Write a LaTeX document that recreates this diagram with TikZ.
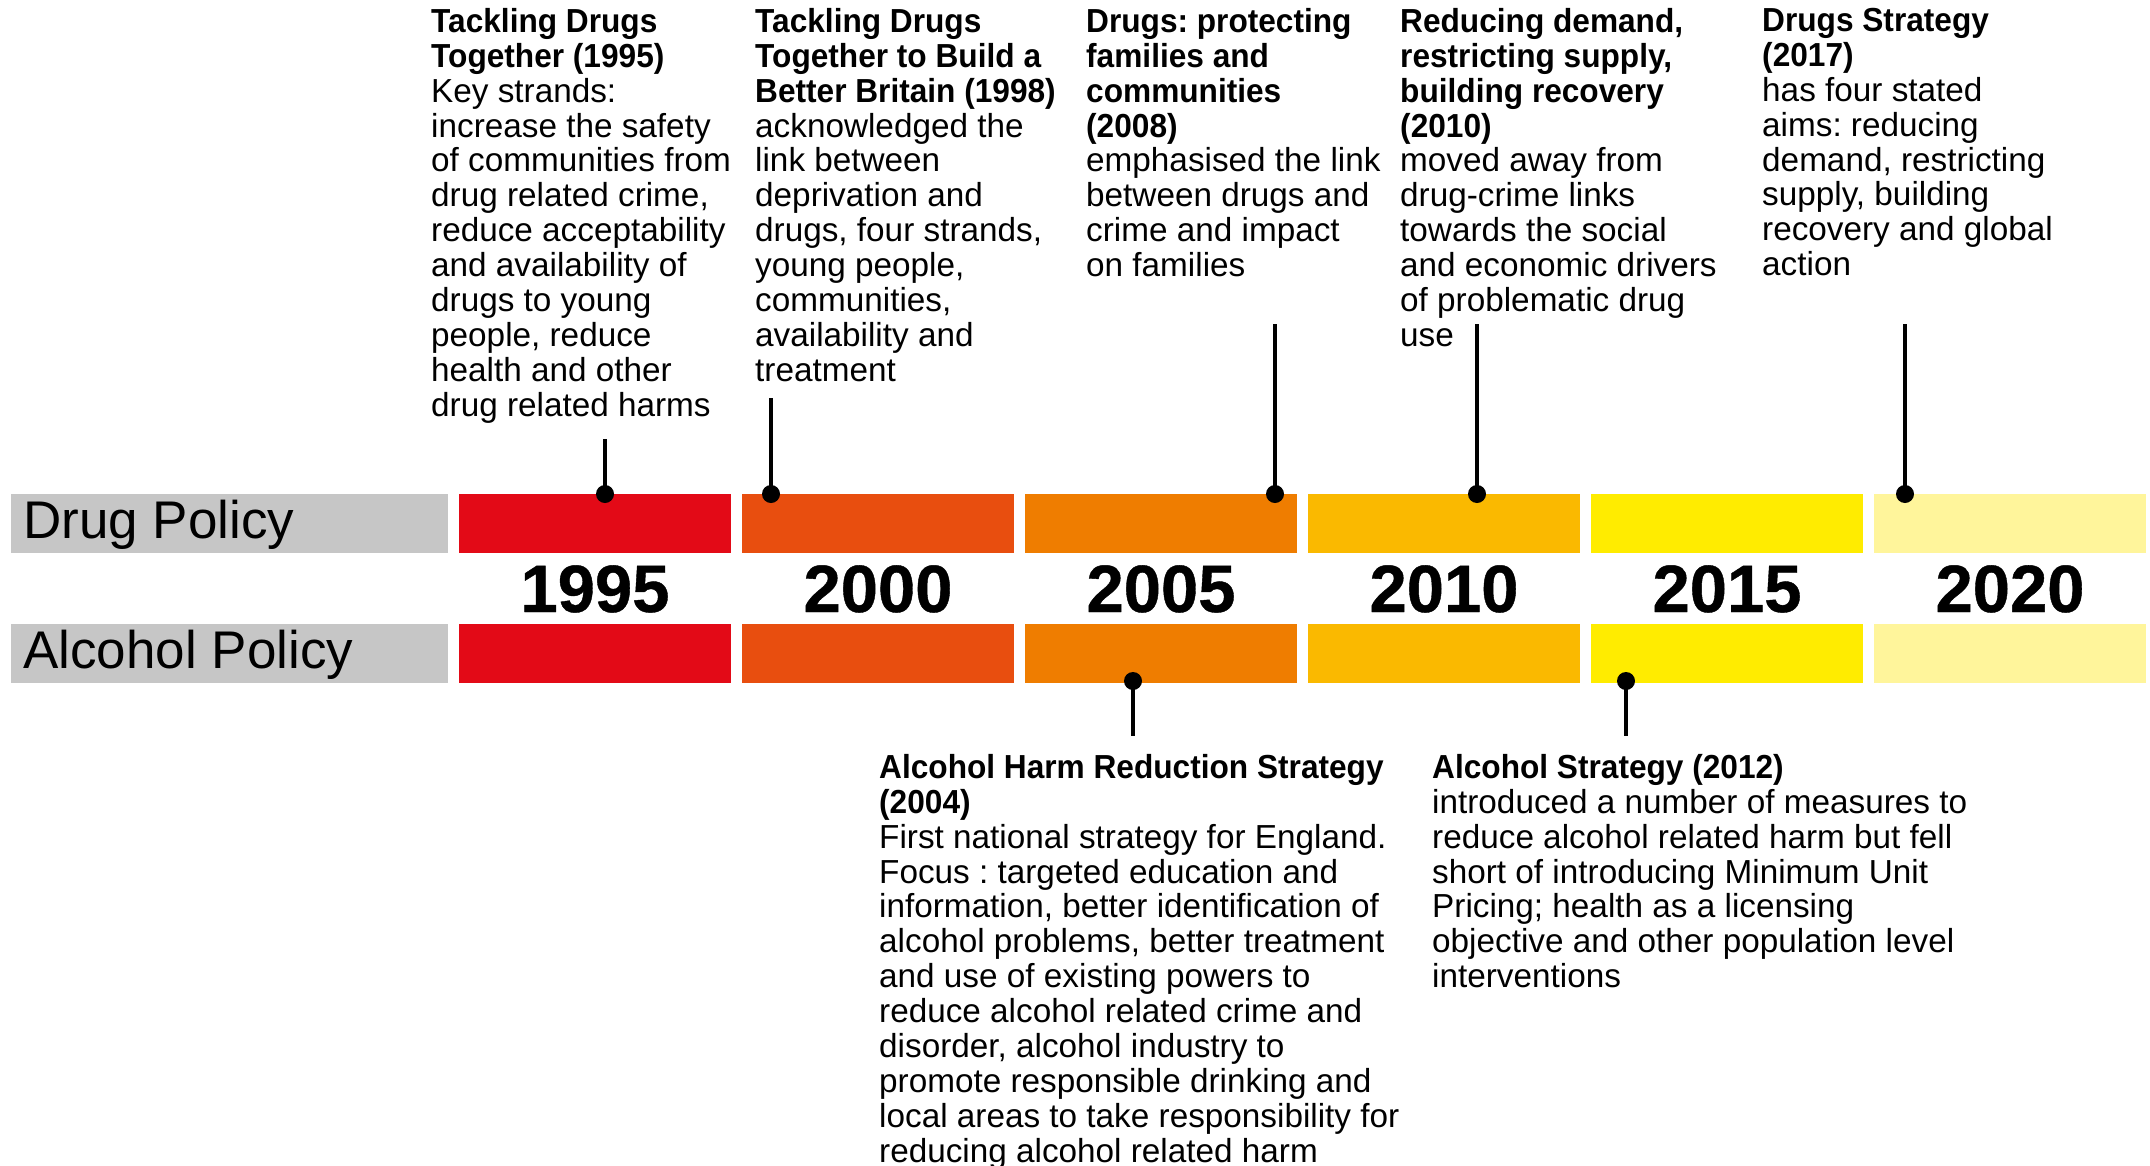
\documentclass[tikz,border=0pt]{standalone}
\usepackage{fontspec}
\setmainfont{Liberation Sans}
\newfontface\headface[FakeStretch=0.95]{Liberation Sans Bold}
\newfontface\yearface[FakeBold=0.6]{Liberation Sans Bold}
\newcommand\bodysize{\fontsize{33.3pt}{34.9pt}\selectfont}
\frenchspacing

\definecolor{y1995}{HTML}{E30A17}
\definecolor{y2000}{HTML}{E84E0F}
\definecolor{y2005}{HTML}{EF7D00}
\definecolor{y2010}{HTML}{FAB900}
\definecolor{y2015}{HTML}{FFEC00}
\definecolor{y2020}{HTML}{FFF59B}
\definecolor{rowgray}{HTML}{C6C6C6}

\tikzset{
  bar/.style={fill=#1, draw=none, minimum width=272pt, minimum height=59pt,
              inner sep=0pt, anchor=north west},
  rowlabel/.style={fill=rowgray, draw=none, minimum width=437pt, minimum height=59pt,
              inner sep=0pt, anchor=north west},
  rowtext/.style={anchor=base west, inner sep=0pt, font=\fontsize{53pt}{60pt}\selectfont},
  yeartext/.style={anchor=base, inner sep=0pt, font=\fontsize{67pt}{70pt}\yearface},
  note/.style={anchor=north west, inner sep=0pt, align=left, font=\bodysize},
  pindot/.style={circle, fill=black, inner sep=0pt, minimum size=18pt},
  stick/.style={draw=black, line width=4pt},
}

\begin{document}
\begin{tikzpicture}[x=1pt, y=-1pt]
  \useasboundingbox (0,0) rectangle (2150,1165);

  % row labels
  \node[rowlabel] (drugrow) at (11,494) {};
  \node[rowlabel] (alcrow) at (11,624) {};
  \node[rowtext] (drugtxt) at (23,538) {Drug Policy};
  \node[rowtext] (alctxt) at (23,668) {Alcohol Policy};

  % five-year bars, drug row
  \node[bar=y1995] (d1995) at (459,494) {};
  \node[bar=y2000] (d2000) at (742,494) {};
  \node[bar=y2005] (d2005) at (1025,494) {};
  \node[bar=y2010] (d2010) at (1308,494) {};
  \node[bar=y2015] (d2015) at (1591,494) {};
  \node[bar=y2020] (d2020) at (1874,494) {};

  % five-year bars, alcohol row
  \node[bar=y1995] (a1995) at (459,624) {};
  \node[bar=y2000] (a2000) at (742,624) {};
  \node[bar=y2005] (a2005) at (1025,624) {};
  \node[bar=y2010] (a2010) at (1308,624) {};
  \node[bar=y2015] (a2015) at (1591,624) {};
  \node[bar=y2020] (a2020) at (1874,624) {};

  % year labels
  \node[yeartext] (t1995) at (595,612) {1995};
  \node[yeartext] (t2000) at (878,612) {2000};
  \node[yeartext] (t2005) at (1161,612) {2005};
  \node[yeartext] (t2010) at (1444,612) {2010};
  \node[yeartext] (t2015) at (1727,612) {2015};
  \node[yeartext] (t2020) at (2010,612) {2020};

  % drug policy notes
  \node[note] (n1995) at (431,8) {{\headface Tackling Drugs}\\{\headface Together (1995)}\\Key strands:\\increase the safety\\of communities from\\drug related crime,\\reduce acceptability\\and availability of\\drugs to young\\people, reduce\\health and other\\drug related harms};
  \node[note] (n1998) at (755,8) {{\headface Tackling Drugs}\\{\headface Together to Build a}\\{\headface Better Britain (1998)}\\acknowledged the\\link between\\deprivation and\\drugs, four strands,\\young people,\\communities,\\availability and\\treatment};
  \node[note] (n2008) at (1086,8) {{\headface Drugs: protecting}\\{\headface families and}\\{\headface communities}\\{\headface (2008)}\\emphasised the link\\between drugs and\\crime and impact\\on families};
  \node[note] (n2010) at (1400,8) {{\headface Reducing demand,}\\{\headface restricting supply,}\\{\headface building recovery}\\{\headface (2010)}\\moved away from\\drug-crime links\\towards the social\\and economic drivers\\of problematic drug\\use};
  \node[note] (n2017) at (1762,8) {{\headface Drugs Strategy}\\{\headface (2017)}\\has four stated\\aims: reducing\\demand, restricting\\supply, building\\recovery and global\\action};

  % alcohol policy notes
  \node[note] (n2004) at (879,754) {{\headface Alcohol Harm Reduction Strategy}\\{\headface (2004)}\\First national strategy for England.\\Focus : targeted education and\\information, better identification of\\alcohol problems, better treatment\\and use of existing powers to\\reduce alcohol related crime and\\disorder, alcohol industry to\\promote responsible drinking and\\local areas to take responsibility for\\reducing alcohol related harm};
  \node[note] (n2012) at (1432,754) {{\headface Alcohol Strategy (2012)}\\introduced a number of measures to\\reduce alcohol related harm but fell\\short of introducing Minimum Unit\\Pricing; health as a licensing\\objective and other population level\\interventions};

  % pin ends
  \coordinate (e1995) at (605,439);
  \coordinate (e1998) at (771,398);
  \coordinate (e2008) at (1275,324);
  \coordinate (e2010) at (1477,324);
  \coordinate (e2017) at (1905,324);
  \coordinate (e2004) at (1133,736);
  \coordinate (e2012) at (1626,736);

  % pins on the drug row
  \node[pindot] (p1995) at (605,494) {};
  \node[pindot] (p1998) at (771,494) {};
  \node[pindot] (p2008) at (1275,494) {};
  \node[pindot] (p2010) at (1477,494) {};
  \node[pindot] (p2017) at (1905,494) {};
  \draw[stick] (p1995.center) -- (e1995);
  \draw[stick] (p1998.center) -- (e1998);
  \draw[stick] (p2008.center) -- (e2008);
  \draw[stick] (p2010.center) -- (e2010);
  \draw[stick] (p2017.center) -- (e2017);

  % pins on the alcohol row
  \node[pindot] (p2004) at (1133,681) {};
  \node[pindot] (p2012) at (1626,681) {};
  \draw[stick] (p2004.center) -- (e2004);
  \draw[stick] (p2012.center) -- (e2012);
\end{tikzpicture}
\end{document}
